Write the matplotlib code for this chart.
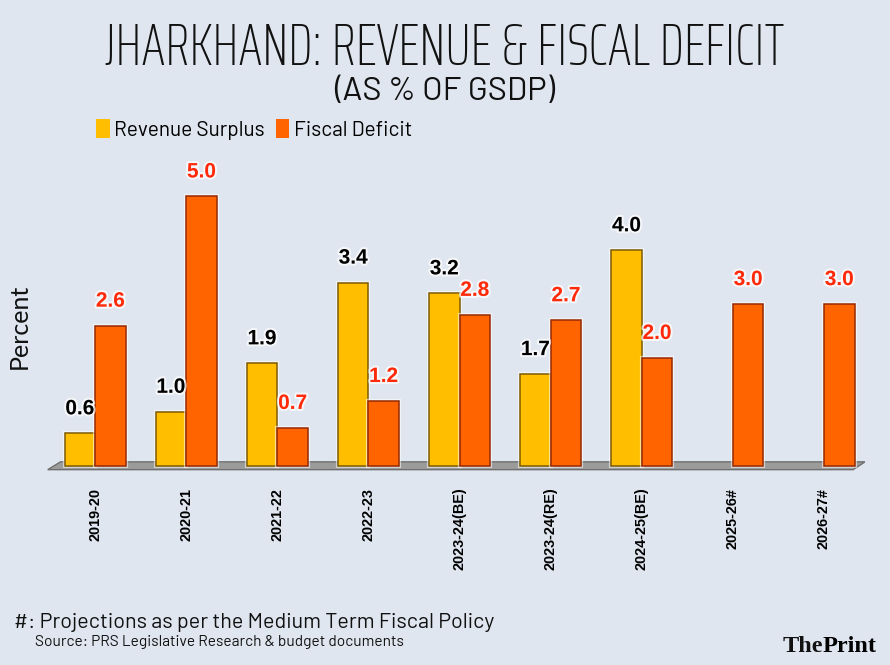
import matplotlib

matplotlib.use("Agg")

import matplotlib.pyplot as plt
import matplotlib.patheffects as pe
import numpy as np
from matplotlib.patches import Patch, Polygon

YEARS = ["2019-20", "2020-21", "2021-22", "2022-23", "2023-24(BE)",
         "2023-24(RE)", "2024-25(BE)", "2025-26#", "2026-27#"]
REVENUE_SURPLUS = [0.6, 1.0, 1.9, 3.4, 3.2, 1.7, 4.0, np.nan, np.nan]
FISCAL_DEFICIT = [2.6, 5.0, 0.7, 1.2, 2.8, 2.7, 2.0, 3.0, 3.0]
SERIES_NAMES = ["Revenue Surplus", "Fiscal Deficit"]

BG = "#dfe6ef"
YELLOW = "#ffbf00"
YELLOW_EDGE = "#7d5a00"
ORANGE = "#ff6400"
ORANGE_EDGE = "#962800"
RED_TEXT = "#ff2a0a"

SANS = ["Barlow", "Roboto", "DejaVu Sans"]
TITLE_FONT = ["Saira ExtraCondensed", "Oswald", "DejaVu Sans"]
BOLD = ["Liberation Sans", "DejaVu Sans"]
SERIF = ["Liberation Serif", "DejaVu Serif"]

W, H = 890, 665
fig = plt.figure(figsize=(W / 100, H / 100), dpi=100)
fig.patch.set_facecolor(BG)

# axes: x from px 45 to 865, y from px 148 to 471
ax = fig.add_axes([45 / W, (H - 471) / H, 820 / W, 323 / H])
ax.set_facecolor(BG)
ax.set_xlim(-0.55, 8.45)
ax.set_ylim(-0.1, 5.9)
for s in ax.spines.values():
    s.set_visible(False)
ax.set_yticks([])

x = np.arange(len(YEARS))
width = 0.335

# floor platform
floor = Polygon([(-0.52, -0.075), (8.32, -0.075), (8.45, 0.07), (-0.38, 0.07)],
                closed=True, facecolor="#9b9b9b", edgecolor="#6f6f6f", lw=1.0, zorder=1)
ax.add_patch(floor)

glow = [pe.withStroke(linewidth=3, foreground="white", alpha=0.55)]
rev = ax.bar(x - width / 2, REVENUE_SURPLUS, width, color=YELLOW,
             edgecolor=YELLOW_EDGE, linewidth=1.1, zorder=3)
fis = ax.bar(x + width / 2, FISCAL_DEFICIT, width, color=ORANGE,
             edgecolor=ORANGE_EDGE, linewidth=1.1, zorder=3)
for b in list(rev) + list(fis):
    b.set_path_effects(glow)

label_fx = [pe.withStroke(linewidth=3, foreground="white", alpha=0.7)]
for xi, v in zip(x, REVENUE_SURPLUS):
    if np.isnan(v):
        continue
    ax.annotate(f"{v:.1f}", xy=(xi - width / 2, v), xytext=(0, 19),
                textcoords="offset pixels", ha="center", va="baseline",
                fontsize=15, fontweight="bold", family=BOLD, color="black",
                path_effects=label_fx, zorder=5)
for xi, v in zip(x, FISCAL_DEFICIT):
    ax.annotate(f"{v:.1f}", xy=(xi + width / 2, v), xytext=(0, 19),
                textcoords="offset pixels", ha="center", va="baseline",
                fontsize=15, fontweight="bold", family=BOLD, color=RED_TEXT,
                path_effects=label_fx, zorder=5)

ax.set_xticks(x)
ax.set_xticklabels(YEARS, rotation=90, fontsize=10.4, fontweight="bold",
                   family=BOLD, va="top")
ax.tick_params(axis="x", length=0, pad=12)

# legend
handles = [Patch(facecolor=YELLOW, edgecolor="none"),
           Patch(facecolor=ORANGE, edgecolor="none")]
ax.legend(handles, SERIES_NAMES, loc="upper left",
          bbox_to_anchor=(96 / W, 1 - 119 / H), bbox_transform=fig.transFigure,
          ncol=2, frameon=False, handlelength=0.65, handleheight=1.05,
          handletextpad=0.2, columnspacing=0.55, borderpad=0, borderaxespad=0,
          prop={"family": SANS, "size": 15, "weight": "normal"})

# titles
fig.text(0.5, 1 - 65 / H, "JHARKHAND: REVENUE & FISCAL DEFICIT", ha="center",
         va="baseline", fontsize=43, family=TITLE_FONT, fontweight=100, color="#111111")
fig.text(0.5, 1 - 100 / H, "(AS % OF GSDP)", ha="center", va="baseline",
         fontsize=23.5, family=SANS, fontweight="normal", color="#111111")

fig.text(19 / W, 1 - 326 / H, "Percent", rotation=90, ha="center", va="center",
         fontsize=18, family=["Lato", "DejaVu Sans"], fontweight="normal", color="#111111")

# footer
fig.text(14 / W, 1 - 628 / H, "#: Projections as per the Medium Term Fiscal Policy",
         ha="left", va="baseline", fontsize=15.5, family=SANS, fontweight="normal",
         color="#111111")
fig.text(35 / W, 1 - 646 / H, "Source: PRS Legislative Research & budget documents",
         ha="left", va="baseline", fontsize=11.1, family=SANS, fontweight="normal",
         color="#111111")
fig.text(823 / W, 1 - 652 / H, "The", ha="right", va="baseline", fontsize=17.5,
         family=SERIF, fontweight="bold", color="#111111")
fig.text(823 / W, 1 - 652 / H, "Print", ha="left", va="baseline", fontsize=17.5,
         family=SERIF, fontweight="heavy", color="#000000")

fig.savefig("out.png", dpi=100, facecolor=BG)
